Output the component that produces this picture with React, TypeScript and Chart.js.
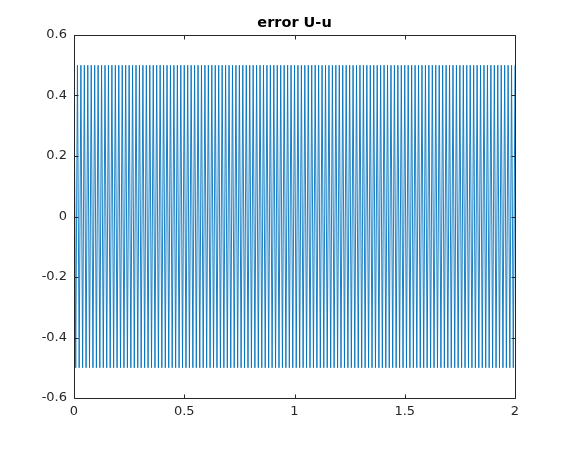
import React, { useEffect, useRef } from "react";
import { Chart, registerables } from "chart.js";

Chart.register(...registerables);

const TITLE = "error U-u";
const X_START = 0;
const X_END = 2;
const X_TICKS = [0, 0.5, 1, 1.5, 2];
const Y_TICKS = [-0.6, -0.4, -0.2, 0, 0.2, 0.4, 0.6];

// U-u sampled on a uniform grid over [0, 2] (257 samples)
const ERROR_VALUES = [
  0.5, -0.5, 0.5, -0.5, 0.5, -0.5, 0.5, -0.5, 0.5, -0.5, 0.5, -0.5, 0.5, -0.5, 0.5, -0.5,
  0.5, -0.5, 0.5, -0.5, 0.5, -0.5, 0.5, -0.5, 0.5, -0.5, 0.5, -0.5, 0.5, -0.5, 0.5, -0.5,
  0.5, -0.5, 0.5, -0.5, 0.5, -0.5, 0.5, -0.5, 0.5, -0.5, 0.5, -0.5, 0.5, -0.5, 0.5, -0.5,
  0.5, -0.5, 0.5, -0.5, 0.5, -0.5, 0.5, -0.5, 0.5, -0.5, 0.5, -0.5, 0.5, -0.5, 0.5, -0.5,
  0.5, -0.5, 0.5, -0.5, 0.5, -0.5, 0.5, -0.5, 0.5, -0.5, 0.5, -0.5, 0.5, -0.5, 0.5, -0.5,
  0.5, -0.5, 0.5, -0.5, 0.5, -0.5, 0.5, -0.5, 0.5, -0.5, 0.5, -0.5, 0.5, -0.5, 0.5, -0.5,
  0.5, -0.5, 0.5, -0.5, 0.5, -0.5, 0.5, -0.5, 0.5, -0.5, 0.5, -0.5, 0.5, -0.5, 0.5, -0.5,
  0.5, -0.5, 0.5, -0.5, 0.5, -0.5, 0.5, -0.5, 0.5, -0.5, 0.5, -0.5, 0.5, -0.5, 0.5, -0.5,
  0.5, -0.5, 0.5, -0.5, 0.5, -0.5, 0.5, -0.5, 0.5, -0.5, 0.5, -0.5, 0.5, -0.5, 0.5, -0.5,
  0.5, -0.5, 0.5, -0.5, 0.5, -0.5, 0.5, -0.5, 0.5, -0.5, 0.5, -0.5, 0.5, -0.5, 0.5, -0.5,
  0.5, -0.5, 0.5, -0.5, 0.5, -0.5, 0.5, -0.5, 0.5, -0.5, 0.5, -0.5, 0.5, -0.5, 0.5, -0.5,
  0.5, -0.5, 0.5, -0.5, 0.5, -0.5, 0.5, -0.5, 0.5, -0.5, 0.5, -0.5, 0.5, -0.5, 0.5, -0.5,
  0.5, -0.5, 0.5, -0.5, 0.5, -0.5, 0.5, -0.5, 0.5, -0.5, 0.5, -0.5, 0.5, -0.5, 0.5, -0.5,
  0.5, -0.5, 0.5, -0.5, 0.5, -0.5, 0.5, -0.5, 0.5, -0.5, 0.5, -0.5, 0.5, -0.5, 0.5, -0.5,
  0.5, -0.5, 0.5, -0.5, 0.5, -0.5, 0.5, -0.5, 0.5, -0.5, 0.5, -0.5, 0.5, -0.5, 0.5, -0.5,
  0.5, -0.5, 0.5, -0.5, 0.5, -0.5, 0.5, -0.5, 0.5, -0.5, 0.5, -0.5, 0.5, -0.5, 0.5, -0.5,
  0.5,
];

const AXIS_COLOR = "#262626";
const LINE_COLOR = "#0072BD";
const FONT_FAMILY = "'DejaVu Sans', sans-serif";

const fmt = (v: number) => String(Math.round(v * 10) / 10);

const boxPlugin = {
  id: "matlabBox",
  afterDraw(chart: any) {
    const { ctx, chartArea } = chart;
    const { left, right, top, bottom } = chartArea;
    const xs = chart.scales.x;
    const ys = chart.scales.y;
    ctx.save();
    ctx.strokeStyle = AXIS_COLOR;
    ctx.lineWidth = 1;
    const L = Math.round(left) + 0.5;
    const R = Math.round(right) + 0.5;
    const T = Math.round(top) + 0.5;
    const B = Math.round(bottom) + 0.5;
    ctx.beginPath();
    ctx.rect(L, T, R - L, B - T);
    const tl = 4;
    X_TICKS.forEach((v) => {
      const px = Math.round(xs.getPixelForValue(v)) + 0.5;
      ctx.moveTo(px, B);
      ctx.lineTo(px, B - tl);
      ctx.moveTo(px, T);
      ctx.lineTo(px, T + tl);
    });
    Y_TICKS.forEach((v) => {
      const py = Math.round(ys.getPixelForValue(v)) + 0.5;
      ctx.moveTo(L, py);
      ctx.lineTo(L + tl, py);
      ctx.moveTo(R, py);
      ctx.lineTo(R - tl, py);
    });
    ctx.stroke();
    // title
    ctx.fillStyle = "#000000";
    ctx.font = `bold 14.5px ${FONT_FAMILY}`;
    ctx.textAlign = "center";
    ctx.textBaseline = "alphabetic";
    ctx.fillText(TITLE, (left + right) / 2, 27);
    ctx.restore();
  },
};

export default function App() {
  const ref = useRef<HTMLCanvasElement | null>(null);
  useEffect(() => {
    if (!ref.current) return;
    const n = ERROR_VALUES.length;
    const points = ERROR_VALUES.map((y, i) => ({
      x: X_START + (i * (X_END - X_START)) / (n - 1),
      y,
    }));
    const chart = new Chart(ref.current, {
      type: "line",
      data: {
        datasets: [
          {
            data: points,
            borderColor: LINE_COLOR,
            borderWidth: 0.9,
            pointRadius: 0,
            tension: 0,
            fill: false,
          },
        ],
      },
      options: {
        responsive: false,
        animation: false,
        devicePixelRatio: 1,
        parsing: false as any,
        layout: { padding: { left: 0, top: 35, right: 55, bottom: 0 } },
        plugins: {
          legend: { display: false },
          tooltip: { enabled: false },
          title: { display: false },
        },
        scales: {
          x: {
            type: "linear",
            min: X_START,
            max: X_END,
            afterFit: (s: any) => {
              s.height = 52;
            },
            afterBuildTicks: (s: any) => {
              s.ticks = X_TICKS.map((v) => ({ value: v }));
            },
            grid: { display: false, drawTicks: false },
            border: { display: false },
            ticks: {
              padding: 6,
              color: AXIS_COLOR,
              font: { family: FONT_FAMILY, size: 13 },
              maxRotation: 0,
              autoSkip: false,
              callback: (v: any) => fmt(Number(v)),
            },
          },
          y: {
            type: "linear",
            min: -0.6,
            max: 0.6,
            afterFit: (s: any) => {
              s.width = 74;
            },
            afterBuildTicks: (s: any) => {
              s.ticks = Y_TICKS.map((v) => ({ value: v }));
            },
            grid: { display: false, drawTicks: false },
            border: { display: false },
            ticks: {
              padding: 7,
              color: AXIS_COLOR,
              font: { family: FONT_FAMILY, size: 13 },
              autoSkip: false,
              callback: (v: any) => fmt(Number(v)),
            },
          },
        },
      },
      plugins: [boxPlugin],
    });
    return () => chart.destroy();
  }, []);
  return (
    <div style={{ position: "absolute", left: 0, top: 0, width: 570, height: 450, background: "#fff" }}>
      <canvas ref={ref} width={570} height={450} style={{ width: 570, height: 450 }} />
    </div>
  );
}
